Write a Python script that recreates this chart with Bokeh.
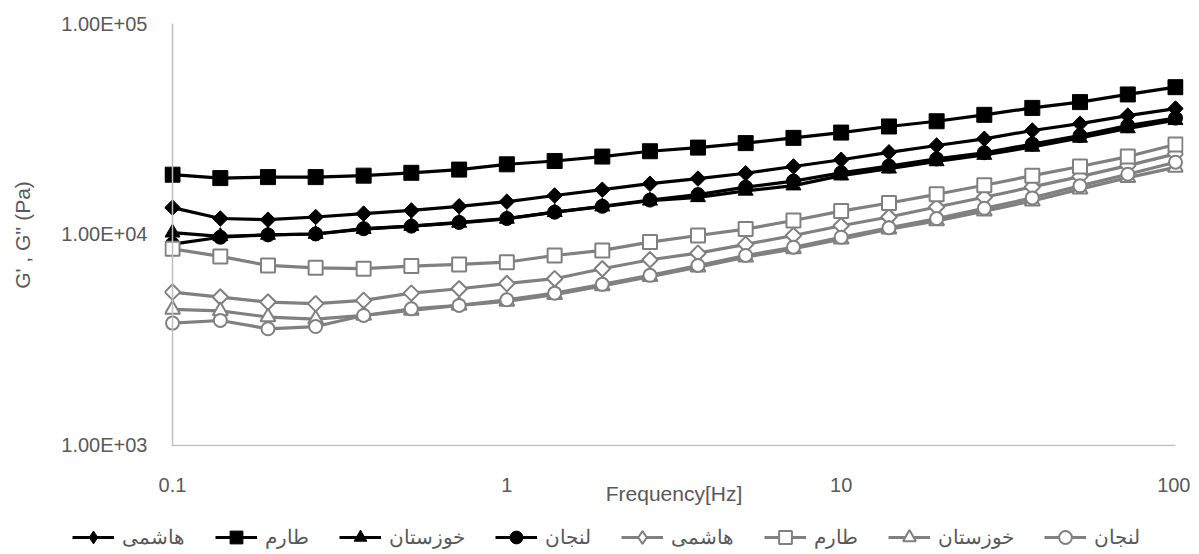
import math
from bokeh.plotting import figure
from bokeh.layouts import column
from bokeh.models import Range1d, FixedTicker, Legend, LegendItem, Span
from bokeh.embed import file_html
from bokeh.resources import INLINE

# ---------------- data ----------------
freq = [0.1, 0.139, 0.193, 0.268, 0.373, 0.518, 0.72, 1, 1.39, 1.93, 2.68, 3.73,
        5.18, 7.2, 10, 13.9, 19.3, 26.8, 37.3, 51.8, 72, 100]

names = ["هاشمی", "طارم", "خوزستان", "لنجان"]

# black (filled markers)
hashemi_1 = [13400, 11900, 11750, 12100, 12550, 13000, 13600, 14300, 15300, 16300, 17400,
             18400, 19500, 21000, 22600, 24500, 26400, 28400, 31100, 33500, 36600, 39500]
tarom_1 = [19200, 18500, 18700, 18700, 19000, 19600, 20300, 21500, 22300, 23400, 24800,
           25800, 27100, 28700, 30400, 32500, 34400, 36900, 39800, 42400, 46100, 49900]
khuz_1 = [10200, 9800, 9950, 10050, 10600, 10950, 11350, 11850, 12750, 13550, 14450,
          15000, 16100, 17050, 19000, 20500, 22200, 23800, 26000, 28700, 31800, 34800]
lanjan_1 = [9000, 9700, 9950, 10050, 10650, 10950, 11400, 11900, 12750, 13600, 14550,
            15450, 16750, 17900, 19600, 21100, 22800, 24400, 26800, 29400, 32800, 35600]

# grey (hollow markers)
hashemi_2 = [5330, 5050, 4780, 4700, 4870, 5270, 5530, 5850, 6170, 6880, 7590,
             8150, 8970, 9890, 11000, 12100, 13500, 15000, 16800, 18800, 21200, 24100]
tarom_2 = [8550, 7870, 7130, 6950, 6880, 7080, 7210, 7390, 7950, 8400, 9200,
           9890, 10600, 11650, 12900, 14100, 15500, 17100, 19000, 21000, 23400, 26700]
khuz_2 = [4410, 4340, 4060, 3970, 4130, 4360, 4610, 4820, 5180, 5700, 6300,
          7000, 7800, 8550, 9500, 10600, 11600, 12900, 14400, 16400, 18600, 20800]
lanjan_2 = [3800, 3910, 3570, 3660, 4130, 4440, 4610, 4900, 5270, 5800, 6400,
            7130, 7950, 8700, 9700, 10750, 11900, 13300, 14900, 17000, 19300, 22000]

x_ticks = [0.1, 1, 10, 100]
x_tick_labels = ["0.1", "1", "10", "100"]
y_ticks = [1000, 10000, 100000]
y_tick_labels = ["1.00E+03", "1.00E+04", "1.00E+05"]

x_title = "Frequency[Hz]"
y_title = "G' , G'' (Pa)"

# ---------------- styling ----------------
FONT = "Liberation Sans"
TXT = "#595959"
AXIS = "#bfbfbf"
BLACK = "#000000"
GREY = "#808080"

W, H_MAIN, H_LEG = 1190, 520, 34
xpad = 10 ** (8 / 334.0)

p = figure(width=W, height=H_MAIN, x_axis_type="log", y_axis_type="log",
           x_range=Range1d(x_ticks[0] / xpad, x_ticks[-1] * xpad),
           y_range=Range1d(y_ticks[0] / 1.012, y_ticks[-1]),
           output_backend="svg", toolbar_location=None,
           min_border_left=164, min_border_right=7, min_border_top=23,
           min_border_bottom=74)
p.outline_line_color = None
p.grid.visible = False
p.frame_align = False

for ax in (p.xaxis[0], p.yaxis[0]):
    ax.axis_line_color = None
    ax.major_tick_line_color = None
    ax.minor_tick_line_color = None
    ax.major_tick_out = 0
    ax.major_tick_in = 0
    ax.minor_tick_out = 0
    ax.minor_tick_in = 0
    ax.major_label_text_font = FONT
    ax.major_label_text_font_size = "20px"
    ax.major_label_text_color = TXT
    ax.axis_label_text_font = FONT
    ax.axis_label_text_font_size = "21px"
    ax.axis_label_text_color = TXT
    ax.axis_label_text_font_style = "normal"

p.xaxis[0].ticker = FixedTicker(ticks=x_ticks, minor_ticks=[])
p.xaxis[0].major_label_overrides = dict(zip(x_ticks, x_tick_labels))
p.xaxis[0].major_label_standoff = 31
p.xaxis[0].axis_label = x_title
p.xaxis[0].axis_label_standoff = -13

p.yaxis[0].ticker = FixedTicker(ticks=y_ticks, minor_ticks=[])
p.yaxis[0].major_label_overrides = dict(zip(y_ticks, y_tick_labels))
p.yaxis[0].major_label_standoff = 17
p.yaxis[0].axis_label = y_title
p.yaxis[0].axis_label_standoff = 24

# axis lines
p.add_layout(Span(location=x_ticks[0], dimension="height", line_color=AXIS, line_width=1.5))
p.segment(x0=[x_ticks[0]], x1=[x_ticks[-1]], y0=[y_ticks[0]], y1=[y_ticks[0]],
          line_color=AXIS, line_width=1.5)

# (label, values, colour, plot marker, size, angle, fill, legend marker)
series = [
    (names[0], hashemi_1, BLACK, "square", 11, math.pi / 4, BLACK, "diamond"),
    (names[1], tarom_1, BLACK, "square", 15, 0, BLACK, "square"),
    (names[2], khuz_1, BLACK, "triangle", 15, 0, BLACK, "triangle"),
    (names[3], lanjan_1, BLACK, "circle", 14, 0, BLACK, "circle"),
    (names[0], hashemi_2, GREY, "square", 11, math.pi / 4, "white", "diamond"),
    (names[1], tarom_2, GREY, "square", 14, 0, "white", "square"),
    (names[2], khuz_2, GREY, "triangle", 15, 0, "white", "triangle"),
    (names[3], lanjan_2, GREY, "circle", 13, 0, "white", "circle"),
]

# legend strip: a separate axis-less figure (its data lie outside its ranges,
# so only the legend shows)
pl = figure(width=W, height=H_LEG, x_range=Range1d(0, 0.01), y_range=Range1d(0, 1),
            x_axis_location=None, y_axis_location=None,
            output_backend="svg", toolbar_location=None, min_border=0)
pl.grid.visible = False
pl.outline_line_color = None
pl.frame_align = False

items = []
for label, ys, col, mk, sz, ang, fill, lmk in series:
    lw_m = 2 if fill == "white" else 1
    p.line(freq, ys, line_color=col, line_width=3.2)
    p.scatter(freq, ys, marker=mk, size=sz, angle=ang, line_color=col,
              fill_color=fill, line_width=lw_m)
    lr = pl.line(freq, ys, line_color=col, line_width=3.2)
    sr = pl.scatter(freq, ys, marker=lmk, size=sz, line_color=col,
                    fill_color=fill, line_width=lw_m)
    items.append(LegendItem(label=label, renderers=[lr, sr]))

legend = Legend(items=items, orientation="horizontal", location=(72, 1),
                glyph_width=42, glyph_height=32, label_standoff=8, spacing=30,
                padding=0, margin=0, border_line_color=None,
                background_fill_alpha=0, label_text_font=FONT,
                label_text_font_size="20px", label_text_color=TXT)
pl.add_layout(legend)

layout = column(p, pl, spacing=0)
open("out.html", "w").write(file_html(layout, INLINE))
